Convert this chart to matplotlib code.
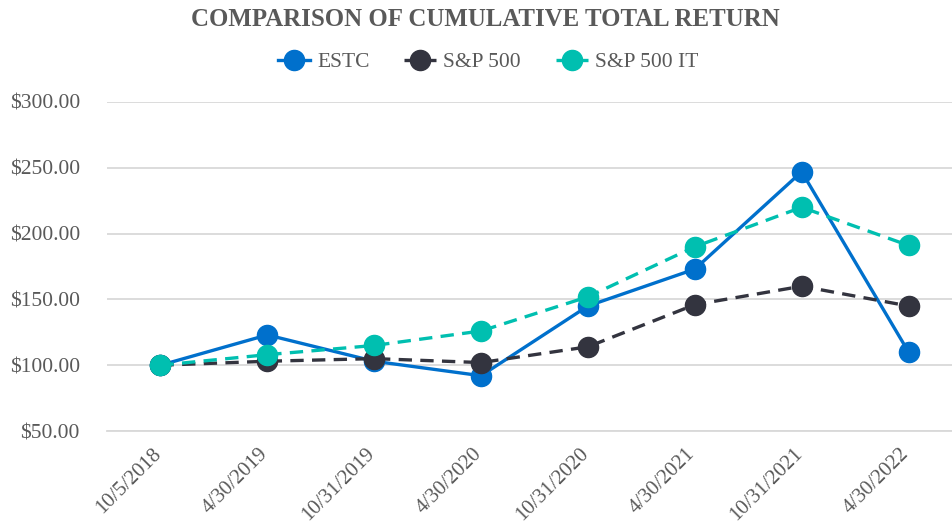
import matplotlib
matplotlib.use("Agg")
import matplotlib.pyplot as plt
from matplotlib.transforms import ScaledTranslation
from matplotlib.lines import Line2D

dates = ["10/5/2018", "4/30/2019", "10/31/2019", "4/30/2020",
         "10/31/2020", "4/30/2021", "10/31/2021", "4/30/2022"]
estc = [100, 123, 103, 92, 145, 173, 247, 110]
sp500 = [100, 103, 105, 102, 114, 146, 160, 145]
sp500_it = [100, 108, 115, 126, 152, 190, 220, 191]
yticks = [50, 100, 150, 200, 250, 300]

plt.rcParams['font.family'] = ['Liberation Serif', 'DejaVu Serif']
grey = '#595959'

fig = plt.figure(figsize=(9.53, 5.31), dpi=100)
W, H = 953, 531
left, right = 107, 962
top, bottom = 102, 431
ax = fig.add_axes([left / W, 1 - bottom / H, (right - left) / W, (bottom - top) / H])

x = list(range(len(dates)))
series = [
    ("ESTC", estc, '#0070CC', '-', 1),
    ("S&P 500", sp500, '#33343F', (0, (4, 2.5)), 2),
    ("S&P 500 IT", sp500_it, '#00BFB0', (0, (4, 2.5)), 3),
]
handles = []
for name, vals, col, ls, z in series:
    ax.plot(x, vals, color=col, linestyle=ls, linewidth=2.4, marker='o',
            markersize=14.5, zorder=z + 2, label=name, clip_on=False)
    handles.append(Line2D([0], [0], color=col, linestyle=ls, linewidth=2.4,
                          marker='o', markersize=14.5))

ax.set_xlim(-0.5, 7.5)
ax.set_ylim(50, 300)
ax.set_yticks(yticks)
ax.set_yticklabels([f"${v:.2f}" for v in yticks], fontsize=15.5, color=grey)
ax.yaxis.grid(True, color='#D9D9D9', linewidth=1.3, zorder=0)
ax.set_axisbelow(True)
for s in ['top', 'right', 'left']:
    ax.spines[s].set_visible(False)
ax.spines['bottom'].set_color('#D9D9D9')
ax.spines['bottom'].set_linewidth(1.3)
ax.tick_params(axis='x', length=0, pad=4)
ax.tick_params(axis='y', length=0, pad=19.5)
ax.set_xticks(x)
ax.set_xticklabels(dates, fontsize=15, color=grey, rotation=45,
                   ha='right', va='top', rotation_mode='anchor')
off = ScaledTranslation(-9 / 100, -8 / 100, fig.dpi_scale_trans)
for lab in ax.get_xticklabels():
    lab.set_transform(lab.get_transform() + off)

fig.text(485 / W, 1 - 19 / H, "COMPARISON OF CUMULATIVE TOTAL RETURN",
         ha='center', va='center', fontsize=17.9, fontweight='bold', color=grey)
fig.legend(handles, [s[0] for s in series], loc='center',
           bbox_to_anchor=(488 / W, 1 - 62 / H), ncol=3, frameon=False,
           fontsize=15.5, handlelength=1.5, columnspacing=1.6, handletextpad=0.33,
           labelcolor=grey)

fig.savefig("out.png", dpi=100)
